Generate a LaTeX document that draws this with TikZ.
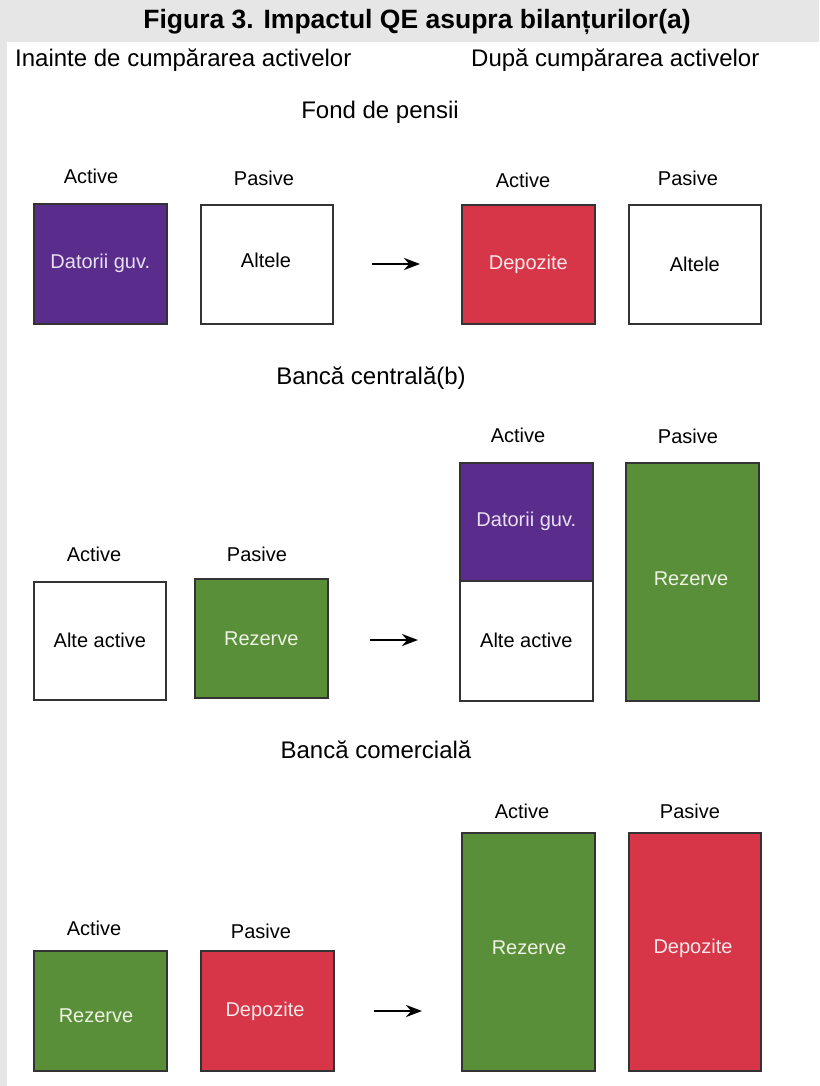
\documentclass[tikz,border=0pt]{standalone}
\usepackage{fontspec}
\setmainfont{Liberation Sans}
\usetikzlibrary{arrows.meta}
\definecolor{bgray}{HTML}{E6E6E6}
\definecolor{cpurple}{HTML}{5A2D8C}
\definecolor{cred}{HTML}{D73648}
\definecolor{cgreen}{HTML}{5A8F3A}
\definecolor{cedge}{HTML}{333333}
\definecolor{tpurple}{HTML}{E8E0F2}
\definecolor{tred}{HTML}{F8E8EA}
\definecolor{tgreen}{HTML}{EEF2E4}
\tikzset{
  box/.style={draw=cedge, line width=1.6pt, inner sep=0pt, anchor=north west,
    font=\fontsize{20}{24}\selectfont},
  wbox/.style={box, fill=white, text=black},
  pbox/.style={box, fill=cpurple, text=tpurple},
  rbox/.style={box, fill=cred, text=tred},
  gbox/.style={box, fill=cgreen, text=tgreen},
  lbl/.style={font=\fontsize{20}{24}\selectfont, inner sep=0pt},
  hdr/.style={font=\fontsize{24}{28}\selectfont, inner sep=0pt},
  ttl/.style={font=\bfseries\fontsize{26.5}{30}\selectfont, inner sep=0pt},
  arr/.style={line width=2.8pt, -{Stealth[length=16pt,width=12pt]}},
}
\begin{document}
\begin{tikzpicture}[x=1pt,y=-1pt]
\useasboundingbox (0,0) rectangle (819,1086);
\fill[white] (0,0) rectangle (819,1086);
\fill[bgray] (0,0) rectangle (819,42);
\fill[bgray] (0,0) rectangle (7,1086);

\node[ttl] (title) at (417,22) {Figura 3. Impactul QE asupra bilanțurilor(a)};
\node[hdr, anchor=west] (before) at (15,60) {Inainte de cumpărarea activelor};
\node[hdr, anchor=west] (after) at (471,60) {După cumpărarea activelor};

% Row 1
\node[hdr] (s1) at (380,112) {Fond de pensii};
\node[lbl] (l1a) at (91,176) {Active};
\node[lbl] (l1b) at (264,178) {Pasive};
\node[lbl] (l1c) at (523,180) {Active};
\node[lbl] (l1d) at (688,178) {Pasive};
\node[pbox, minimum width=133pt, minimum height=120pt] (b1a) at (33,203) {Datorii guv.};
\node[wbox, minimum width=132pt, minimum height=119pt] (b1b) at (200,204) {};
\node[lbl] (t1b) at (266,260) {Altele};
\node[rbox, minimum width=133pt, minimum height=119pt] (b1c) at (461,204) {Depozite};
\node[wbox, minimum width=132pt, minimum height=119pt] (b1d) at (628,204) {Altele};
\coordinate (a1s) at (372,264);
\coordinate (a1e) at (420,264);
\draw[arr] (a1s) -- (a1e);

% Row 2
\node[hdr] (s2) at (371,378) {Bancă centrală(b)};
\node[lbl] (l2a) at (94,554) {Active};
\node[lbl] (l2b) at (257,554) {Pasive};
\node[lbl] (l2c) at (518,435) {Active};
\node[lbl] (l2d) at (688,436) {Pasive};
\node[wbox, minimum width=132pt, minimum height=118pt] (b2a) at (33,581) {Alte active};
\node[gbox, minimum width=133pt, minimum height=119pt] (b2b) at (194,578) {Rezerve};
\node[pbox, minimum width=133pt, minimum height=118pt] (b2c) at (459,462) {Datorii guv.};
\node[wbox, minimum width=133pt, minimum height=120pt] (b2e) at (459,580) {Alte active};
\node[gbox, minimum width=133pt, minimum height=238pt] (b2d) at (625,462) {};
\node[lbl, text=tgreen] (t2d) at (691,579) {Rezerve};
\coordinate (a2s) at (370,640);
\coordinate (a2e) at (418,640);
\draw[arr] (a2s) -- (a2e);

% Row 3
\node[hdr] (s3) at (376,750) {Bancă comercială};
\node[lbl] (l3a) at (94,928) {Active};
\node[lbl] (l3b) at (261,931) {Pasive};
\node[lbl] (l3c) at (522,811) {Active};
\node[lbl] (l3d) at (690,811) {Pasive};
\node[gbox, minimum width=133pt, minimum height=120pt] (b3a) at (33,950) {};
\node[lbl, text=tgreen] (t3a) at (96,1016) {Rezerve};
\node[rbox, minimum width=133pt, minimum height=120pt] (b3b) at (200,950) {};
\node[lbl, text=tred] (t3b) at (265,1011) {Depozite};
\node[gbox, minimum width=133pt, minimum height=238pt] (b3c) at (461,832) {};
\node[lbl, text=tgreen] (t3c) at (529,948) {Rezerve};
\node[rbox, minimum width=132pt, minimum height=238pt] (b3d) at (628,832) {};
\node[lbl, text=tred] (t3d) at (693,948) {Depozite};
\coordinate (a3s) at (374,1011);
\coordinate (a3e) at (422,1011);
\draw[arr] (a3s) -- (a3e);
\end{tikzpicture}
\end{document}
